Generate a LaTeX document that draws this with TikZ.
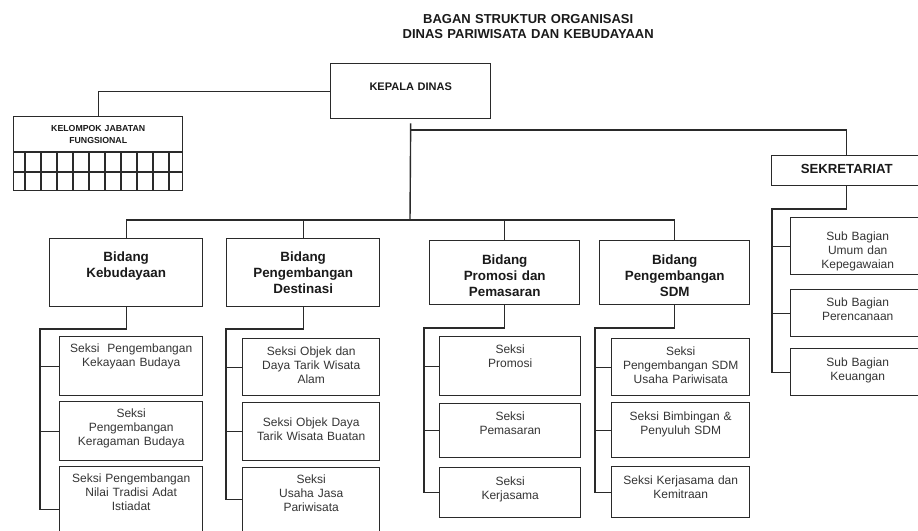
\documentclass[tikz,border=0pt]{standalone}
\usepackage{fontspec}
\setmainfont{Liberation Sans}
\usepackage{tikz}
\definecolor{linec}{HTML}{2A2A2A}
\definecolor{textc}{HTML}{353535}
\definecolor{headc}{HTML}{1A1A1A}
\newcommand{\judulfont}{\fontsize{13}{15}\selectfont\bfseries}
\newcommand{\bidangfont}{\fontsize{13.4}{16}\selectfont\bfseries}
\newcommand{\seksifont}{\fontsize{12}{14}\selectfont}

\tikzset{
  box/.style={draw=linec, line width=1.4pt, anchor=north west,
    inner xsep=2pt, inner ysep=0pt, align=center, text=textc},
  sz/.style n args={3}{text width=#1pt-4pt, text height=#3pt, text depth=#2pt-#3pt},
  bidang/.style={box, font=\bidangfont, text=headc},
  seksi/.style={box, font=\seksifont},
  conn/.style={draw=linec, line width=1.4pt},
}

\begin{document}
\begin{tikzpicture}[x=1pt, y=-1pt]
  \useasboundingbox (0,0) rectangle (918,530);
  \fill[white] (0,0) rectangle (918,530);
  \clip (0,0) rectangle (918,530);

  % judul
  \node[anchor=north west, inner sep=0pt, align=center, text width=400pt,
    text height=23pt, font=\judulfont, text=headc] (judul) at (328,0)
    {BAGAN STRUKTUR ORGANISASI\\DINAS PARIWISATA DAN KEBUDAYAAN};

  % pimpinan
  \node[box, sz={160}{55}{27}, font=\fontsize{11}{13}\selectfont\bfseries, text=headc]
    (kd) at (330,63) {KEPALA DINAS};
  \node[box, sz={169}{74}{15}, font=\fontsize{8.75}{12}\selectfont\bfseries, text=headc]
    (kjf) at (13,116) {KELOMPOK JABATAN\\FUNGSIONAL};
  \draw[conn] (13,152) -- (182,152) (13,172) -- (182,172);
  \foreach \x in {25,41,...,169}
    \draw[conn] (\x,152) -- (\x,190);
  \node[box, sz={150}{30}{18}, font=\fontsize{13.2}{15}\selectfont\bfseries, text=headc]
    (sek) at (771,155) {SEKRETARIAT};

  % bidang
  \node[bidang, sz={153}{68}{23}] (bk) at (49,238) {Bidang\\Kebudayaan};
  \node[bidang, sz={153}{68}{23}] (bd) at (226,238) {Bidang\\Pengembangan\\Destinasi};
  \node[bidang, sz={150}{64}{24}] (bp) at (429,240) {Bidang\\Promosi dan\\Pemasaran};
  \node[bidang, sz={150}{64}{24}] (bs) at (599,240) {Bidang\\Pengembangan\\SDM};

  % seksi
  \node[seksi, sz={143}{59}{16}] (bk1) at (59,336) {Seksi\ \ Pengembangan\\Kekayaan Budaya};
  \node[seksi, sz={143}{59}{16}] (bk2) at (59,401) {Seksi\\Pengembangan\\Keragaman Budaya};
  \node[seksi, sz={143}{86}{16}] (bk3) at (59,466) {Seksi Pengembangan\\Nilai Tradisi Adat\\Istiadat};
  \node[seksi, sz={137}{57}{17}] (bd1) at (242,338) {Seksi Objek dan\\Daya Tarik Wisata\\Alam};
  \node[seksi, sz={137}{58}{24}] (bd2) at (242,402) {Seksi Objek Daya\\Tarik Wisata Buatan};
  \node[seksi, sz={137}{64}{16}] (bd3) at (242,467) {Seksi\\Usaha Jasa\\Pariwisata};
  \node[seksi, sz={141}{59}{17}] (bp1) at (439,336) {Seksi\\Promosi};
  \node[seksi, sz={141}{54}{17}] (bp2) at (439,403) {Seksi\\Pemasaran};
  \node[seksi, sz={141}{50}{18}] (bp3) at (439,467) {Seksi\\Kerjasama};
  \node[seksi, sz={138}{57}{17}] (bs1) at (611,338) {Seksi\\Pengembangan SDM\\Usaha Pariwisata};
  \node[seksi, sz={138}{55}{18}] (bs2) at (611,402) {Seksi Bimbingan \&\\Penyuluh SDM};
  \node[seksi, sz={138}{51}{18}] (bs3) at (611,466) {Seksi Kerjasama dan\\Kemitraan};

  % sub bagian
  \node[seksi, sz={134}{57}{23}] (sb1) at (790,217) {Sub Bagian\\Umum dan\\Kepegawaian};
  \node[seksi, sz={134}{47}{17}] (sb2) at (790,289) {Sub Bagian\\Perencanaan};
  \node[seksi, sz={134}{47}{18}] (sb3) at (790,348) {Sub Bagian\\Keuangan};

  % garis
  \coordinate (bus) at (410,220);
  \coordinate (sekjoin) at (410,130);
  \draw[conn] (kd.west) -| (kjf.north);
  \draw[conn, shorten <=4pt] (kd.south) -- (bus);
  \draw[conn] (sekjoin) -| (sek.north);
  \draw[conn] (bk.north) |- (bus) -| (bs.north);
  \draw[conn] (bd.north) -- (bd.north |- bus);
  \draw[conn] (bp.north) -- (bp.north |- bus);
  \foreach \c/\sx/\sy in {bk/40/329, bd/226/329, bp/424/328, bs/595/328, sek/772/209}{
    \coordinate (\c-sp) at (\sx,\sy);
  }
  \foreach \c/\s in {bk/bk, bd/bd, bp/bp, bs/bs, sek/sb}{
    \draw[conn] (\c.south) |- (\c-sp) |- (\s3.west);
    \foreach \i in {1,2}
      \draw[conn] (\c-sp |- \s\i.west) -- (\s\i.west);
  }
\end{tikzpicture}
\end{document}
